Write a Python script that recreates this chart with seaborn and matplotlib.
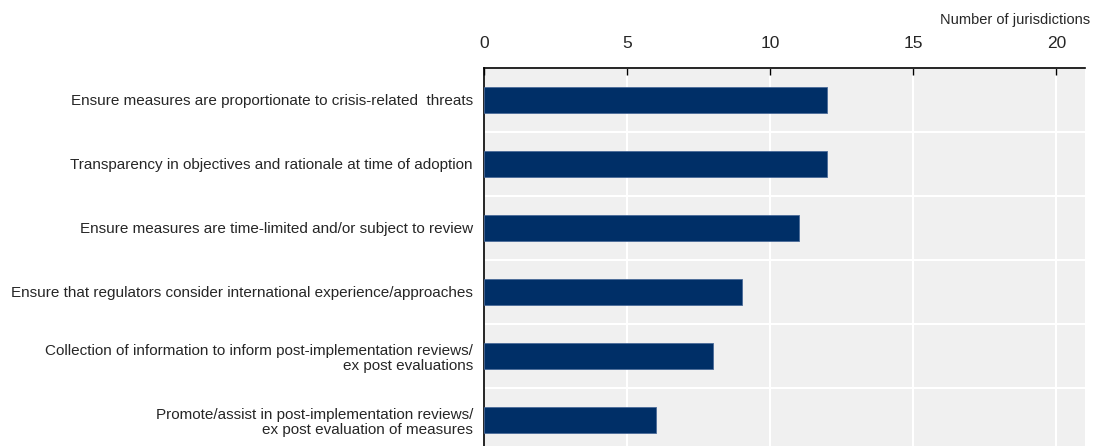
import numpy as np
import pandas as pd
import matplotlib.pyplot as plt
import seaborn as sns

# chart data
categories = [
    "Ensure measures are proportionate to crisis-related  threats",
    "Transparency in objectives and rationale at time of adoption",
    "Ensure measures are time-limited and/or subject to review",
    "Ensure that regulators consider international experience/approaches",
    "Collection of information to inform post-implementation reviews/\nex post evaluations",
    "Promote/assist in post-implementation reviews/\nex post evaluation of measures",
]
values = [12, 12, 11, 9, 8, 6]
x_ticks = [0, 5, 10, 15, 20]

df = pd.DataFrame({"category": categories, "value": values})

sns.set_style("white")
plt.rcParams['font.family'] = ['Liberation Sans Narrow', 'Liberation Sans', 'DejaVu Sans']

fig = plt.figure(figsize=(11.05, 4.46), dpi=100)
ax = fig.add_axes([484 / 1105, 1 - 452 / 446, (1085 - 484) / 1105, (452 - 68) / 446])

sns.barplot(data=df, x="value", y="category", color="#002F67", saturation=1,
            width=0.4, edgecolor="#4a6a99", linewidth=0.6, ax=ax, zorder=3)

ax.set_facecolor("#F0F0F0")
ax.set_xlim(0, 21)
ax.set_ylim(len(categories) - 0.5, -0.5)
ax.set_xlabel("")
ax.set_ylabel("")

ax.xaxis.tick_top()
ax.set_xticks(x_ticks)
ax.tick_params(axis="x", direction="in", length=5, width=1, color="black",
               labelsize=12.5, pad=12)
ax.grid(axis="x", color="white", linewidth=1.5, zorder=0)

ax.set_yticks(np.arange(len(categories)))
ax.set_yticklabels(categories, fontsize=11, linespacing=1.1)
ax.set_yticks(np.arange(len(categories) + 1) - 0.5, minor=True)
ax.tick_params(axis="y", which="major", length=0, pad=8)
ax.tick_params(axis="y", which="minor", direction="in", length=4, width=1.2,
               color="black", zorder=5)
ax.grid(axis="y", which="minor", color="white", linewidth=1.5, zorder=0)
ax.grid(axis="y", which="major", visible=False)
ax.set_axisbelow(True)

for side in ["right", "bottom"]:
    ax.spines[side].set_visible(False)
ax.spines["top"].set_color("black")
ax.spines["top"].set_linewidth(1.2)
ax.spines["left"].set_color("black")
ax.spines["left"].set_linewidth(1.2)

fig.text(1090 / 1105, 1 - 20 / 446, "Number of jurisdictions", ha="right",
         va="center", fontsize=10.5)

fig.savefig("out.png", dpi=100)
